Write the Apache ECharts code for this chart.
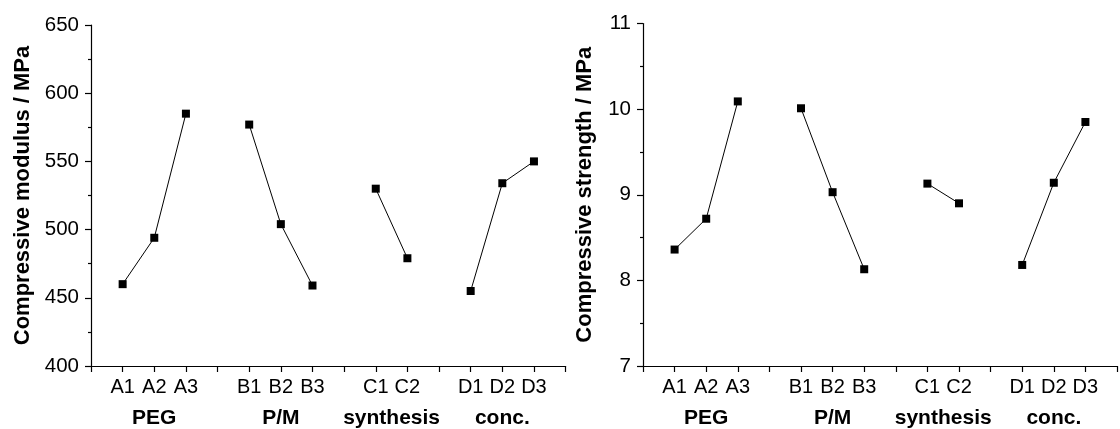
<!DOCTYPE html>
<html>
<head>
<meta charset="utf-8">
<script src="https://cdn.jsdelivr.net/npm/echarts@6/dist/echarts.min.js"></script>
<style>
  html, body { margin: 0; padding: 0; background: #fff; }
  #main { width: 1120px; height: 429px; }
</style>
</head>
<body>
<div id="main"></div>
<script>
// category slots, blanks are the separator ticks between the factor groups
var categories = ['', 'A1', 'A2', 'A3', '', 'B1', 'B2', 'B3', '', 'C1', 'C2', '', 'D1', 'D2', 'D3', ''];
var groupNames = ['PEG', 'P/M', 'synthesis', 'conc.'];
var groupLetters = ['A', 'B', 'C', 'D'];

// compressive modulus / MPa
var modulus = [null, 460, 494, 585, null, 577, 504, 459, null, 530, 479, null, 455, 534, 550, null];
// compressive strength / MPa
var strength = [null, 8.36, 8.72, 10.09, null, 10.01, 9.03, 8.13, null, 9.13, 8.90, null, 8.18, 9.14, 9.85, null];

var modulusTicks = { min: 400, max: 650, interval: 50 };
var strengthTicks = { min: 7, max: 11, interval: 1 };

var FONT = 'Liberation Sans, Arial, sans-serif';

// centre of each group = mean slot index of its members
var groupCenters = groupLetters.map(function (l) {
	var idx = [];
	categories.forEach(function (c, i) { if (c.charAt(0) === l) idx.push(i); });
	return idx.reduce(function (a, b) { return a + b; }, 0) / idx.length;
});

function catAxis(gridIndex) {
	return {
		type: 'category',
		gridIndex: gridIndex,
		data: categories,
		boundaryGap: false,
		axisLine: { lineStyle: { color: '#000', width: 1.2 } },
		axisTick: { show: true, interval: 0, length: 6, lineStyle: { color: '#000', width: 1.2 } },
		axisLabel: { interval: 0, color: '#000', fontSize: 20, fontFamily: FONT, margin: 11 },
		splitLine: { show: false }
	};
}

function groupAxis(gridIndex) {
	return {
		type: 'value',
		gridIndex: gridIndex,
		position: 'bottom',
		min: 0,
		max: categories.length - 1,
		axisLine: { show: false },
		axisTick: { show: false },
		splitLine: { show: false },
		axisLabel: {
			customValues: groupCenters,
			color: '#000', fontSize: 21, fontWeight: 'bold', fontFamily: FONT, margin: 42,
			formatter: function (v) {
				var k = groupCenters.indexOf(v);
				return k >= 0 ? groupNames[k] : '';
			}
		}
	};
}

function valAxis(gridIndex, ticks, name, gap) {
	return {
		type: 'value',
		gridIndex: gridIndex,
		min: ticks.min,
		max: ticks.max,
		interval: ticks.interval,
		name: name,
		nameLocation: 'middle',
		nameGap: gap,
		nameTextStyle: { color: '#000', fontSize: 22, fontWeight: 'bold', fontFamily: FONT },
		axisLine: { show: true, lineStyle: { color: '#000', width: 1.2 } },
		axisTick: { show: true, length: 6, lineStyle: { color: '#000', width: 1.2 } },
		minorTick: { show: true, splitNumber: 2, length: 3, lineStyle: { color: '#000', width: 1.2 } },
		axisLabel: { color: '#000', fontSize: 20.5, fontFamily: FONT, margin: 12 },
		splitLine: { show: false }
	};
}

function lineSeries(idx, values) {
	return {
		type: 'line',
		xAxisIndex: idx * 2,
		yAxisIndex: idx,
		data: values,
		connectNulls: false,
		symbol: 'rect',
		symbolSize: 8,
		itemStyle: { color: '#000' },
		lineStyle: { color: '#000', width: 1 },
		animation: false
	};
}

var myChart = echarts.init(document.getElementById('main'));
var option = {
	backgroundColor: '#fff',
	animation: false,
	grid: [
		{ left: 91, top: 25, width: 474.6, height: 341.5 },
		{ left: 643, top: 23.5, width: 486.5, height: 344.5 }
	],
	xAxis: [catAxis(0), groupAxis(0), catAxis(1), groupAxis(1)],
	yAxis: [
		valAxis(0, modulusTicks, 'Compressive modulus / MPa', 57),
		valAxis(1, strengthTicks, 'Compressive strength / MPa', 47)
	],
	series: [lineSeries(0, modulus), lineSeries(1, strength)]
};
myChart.setOption(option);
</script>
</body>
</html>
